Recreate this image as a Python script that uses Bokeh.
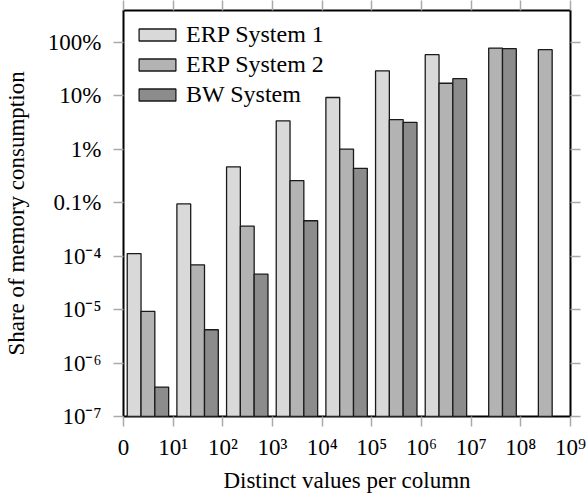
from bokeh.plotting import figure
from bokeh.models import (FixedTicker, CustomJSTickFormatter, LinearAxis, LogAxis,
                          ColumnDataSource, Legend, LegendItem)
from bokeh.embed import file_html
from bokeh.resources import INLINE

# ---- data (fractions of total memory; None = no bar) ----
bins = [0, 1, 2, 3, 4, 5, 6, 7, 8]
erp1 = [1.12e-4, 9.5e-4, 4.7e-3, 0.034, 0.093, 0.294, 0.59, None, None]
erp2 = [9.3e-6, 6.9e-5, 3.64e-4, 2.6e-3, 0.0101, 0.036, 0.172, 0.784, 0.732]
bw = [3.55e-7, 4.2e-6, 4.6e-5, 4.6e-4, 4.4e-3, 0.032, 0.209, 0.764, None]
series_names = ["ERP System 1", "ERP System 2", "BW System"]

x_ticks = [0, 1, 2, 3, 4, 5, 6, 7, 8, 9]
x_tick_labels = ["0", "10¹", "10²", "10³", "10⁴", "10⁵", "10⁶", "10⁷", "10⁸", "10⁹"]
y_ticks = [1e-7, 1e-6, 1e-5, 1e-4, 1e-3, 1e-2, 1e-1, 1.0]
y_tick_labels = ["10⁻⁷", "10⁻⁶", "10⁻⁵", "10⁻⁴", "0.1%", "1%", "10%", "100%"]

colors = ["#d9d9d9", "#b3b3b3", "#8c8c8c"]
offsets = [0.214, 0.492, 0.77]
bar_w = 0.278
y_bottom = 1e-7
FONT = "Liberation Serif"
LEGEND_FONT = "Times New Roman"

p = figure(width=587, height=495, x_range=(0, 9), y_range=(1e-7, 3.95),
           y_axis_type="log", output_backend="svg", toolbar_location=None,
           min_border_left=123, min_border_right=17, min_border_top=10,
           min_border_bottom=75)
p.background_fill_color = "white"
p.border_fill_color = "white"
p.outline_line_color = "black"
p.outline_line_width = 2
p.xgrid.visible = False
p.ygrid.visible = False

items = []
for vals, name, col, off in zip([erp1, erp2, bw], series_names, colors, offsets):
    xs = [b + off for b, v in zip(bins, vals) if v is not None]
    tops = [v for v in vals if v is not None]
    src = ColumnDataSource(dict(x=xs, top=tops))
    r = p.vbar(x="x", top="top", bottom=y_bottom, width=bar_w, source=src,
               fill_color=col, line_color="#1a1a1a", line_width=1.3)
    items.append(LegendItem(label=name, renderers=[r]))

yfmt = CustomJSTickFormatter(args=dict(vals=y_ticks, labs=y_tick_labels), code="""
let best = 0, bd = Infinity;
for (let i = 0; i < vals.length; i++) {
  const d = Math.abs(Math.log10(tick) - Math.log10(vals[i]));
  if (d < bd) { bd = d; best = i; }
}
return labs[best];
""")
xfmt = CustomJSTickFormatter(args=dict(vals=x_ticks, labs=x_tick_labels), code="""
let best = 0, bd = Infinity;
for (let i = 0; i < vals.length; i++) {
  const d = Math.abs(tick - vals[i]);
  if (d < bd) { bd = d; best = i; }
}
return labs[best];
""")

tick_col = "#aaaaaa"

def style(ax):
    ax.axis_line_color = None
    ax.major_tick_line_color = tick_col
    ax.major_tick_line_width = 1.5
    ax.major_tick_out = 10
    ax.major_tick_in = 0
    ax.minor_tick_line_color = None
    ax.major_label_text_font = FONT
    ax.major_label_text_font_size = "23px"
    ax.major_label_text_color = "black"
    ax.axis_label_text_font = FONT
    ax.axis_label_text_font_size = "23px"
    ax.axis_label_text_font_style = "normal"
    ax.axis_label_text_color = "black"

xa = p.xaxis[0]
xa.ticker = FixedTicker(ticks=x_ticks, minor_ticks=[])
xa.formatter = xfmt
xa.axis_label = "Distinct values per column"
style(xa)
xa.major_label_standoff = 8
xa.axis_label_standoff = 5

ya = p.yaxis[0]
ya.ticker = FixedTicker(ticks=y_ticks, minor_ticks=[])
ya.formatter = yfmt
ya.axis_label = "Share of memory consumption"
style(ya)
ya.major_label_standoff = 12
ya.axis_label_standoff = 16

blank = CustomJSTickFormatter(code="return '';")
top_ax = LinearAxis(ticker=FixedTicker(ticks=x_ticks, minor_ticks=[]), formatter=blank)
style(top_ax)
top_ax.major_label_text_font_size = "0px"
top_ax.major_label_standoff = 0
p.add_layout(top_ax, "above")

right_ax = LogAxis(ticker=FixedTicker(ticks=y_ticks, minor_ticks=[]), formatter=blank)
style(right_ax)
right_ax.major_label_text_font_size = "0px"
right_ax.major_label_standoff = 0
p.add_layout(right_ax, "right")

lg = Legend(items=items, location="top_left",
            glyph_width=46, glyph_height=15,
            label_text_font=LEGEND_FONT, label_text_font_size="24px",
            label_text_font_style="normal", label_text_color="black",
            label_standoff=6, spacing=3, padding=9, margin=11,
            border_line_color=None, background_fill_alpha=0.0)
p.add_layout(lg, "center")

open("out.html", "w").write(file_html(p, INLINE))
